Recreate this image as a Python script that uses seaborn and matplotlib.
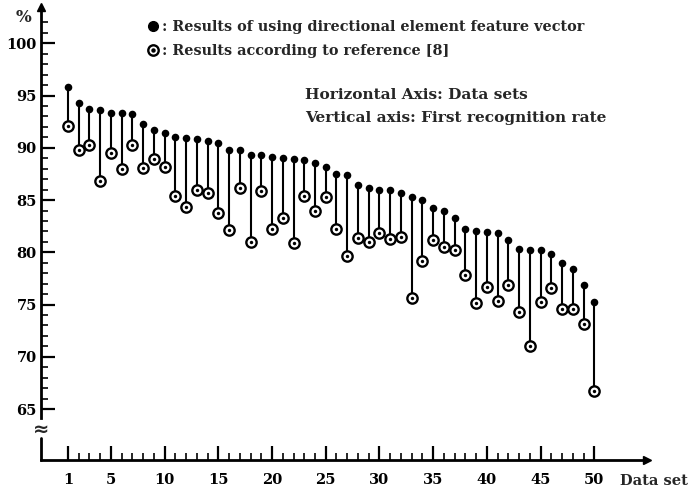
import numpy as np
import pandas as pd
import matplotlib
matplotlib.use("Agg")
import matplotlib.pyplot as plt
from matplotlib.lines import Line2D
from matplotlib.legend_handler import HandlerTuple
import seaborn as sns

# ---- data ----
data_sets = list(range(1, 51))
directional = [95.85, 94.32, 93.68, 93.59, 93.36, 93.30, 93.23, 92.25, 91.70, 91.42,
               91.07, 90.90, 90.81, 90.65, 90.43, 89.79, 89.76, 89.34, 89.28, 89.09,
               89.02, 88.90, 88.83, 88.57, 88.19, 87.50, 87.37, 86.47, 86.15, 86.00,
               85.95, 85.70, 85.32, 85.00, 84.28, 83.98, 83.28, 82.26, 82.07, 81.97,
               81.82, 81.18, 80.29, 80.22, 80.22, 79.84, 78.95, 78.43, 76.90, 75.28]
reference8 = [92.08, 89.79, 90.27, 86.82, 89.53, 87.97, 90.24, 88.10, 88.96, 88.13,
              85.39, 84.30, 85.96, 85.70, 83.79, 82.13, 86.17, 81.02, 85.90, 82.20,
              83.25, 80.86, 85.35, 83.98, 85.29, 82.20, 79.68, 81.40, 80.96, 81.82,
              81.30, 81.46, 75.60, 79.17, 81.15, 80.54, 80.22, 77.86, 75.18, 76.71,
              75.37, 76.84, 74.32, 71.05, 75.28, 76.58, 74.54, 74.54, 73.14, 66.70]
y_ticks = [65, 70, 75, 80, 85, 90, 95, 100]
x_ticks = [1, 5, 10, 15, 20, 25, 30, 35, 40, 45, 50]
label_dir = ": Results of using directional element feature vector"
label_ref = ": Results according to reference [8]"

df = pd.DataFrame({"set": data_sets, "dir": directional, "ref": reference8})

sns.set_style("white")
plt.rcParams["font.family"] = ["DejaVu Serif", "DejaVu Sans"]
plt.rcParams["font.weight"] = "bold"

W, H = 694, 490
fig = plt.figure(figsize=(W / 100, H / 100), dpi=100)
x0px, x1px, y0px, y1px = 41, 647, 460, 7
ax = fig.add_axes([x0px / W, 1 - y0px / H, (x1px - x0px) / W, (y0px - y1px) / H])
xlim = (-1.51, 54.91)
ylim = (60.13, 103.47)
ax.set_xlim(*xlim)
ax.set_ylim(*ylim)

# stems
ax.vlines(df["set"], df["ref"], df["dir"], color="black", lw=1.5, zorder=2)
# filled dots
sns.scatterplot(data=df, x="set", y="dir", ax=ax, color="black", s=30,
                edgecolor="black", linewidth=0, zorder=4, legend=False)
# open circles with centre dot
sns.scatterplot(data=df, x="set", y="ref", ax=ax, color="white", s=55,
                edgecolor="black", linewidth=1.7, zorder=4, legend=False)
sns.scatterplot(data=df, x="set", y="ref", ax=ax, color="black", s=6,
                linewidth=0, zorder=5, legend=False)

# spines
for s in ["top", "right"]:
    ax.spines[s].set_visible(False)
for s in ["left", "bottom"]:
    ax.spines[s].set_linewidth(2.0)
    ax.spines[s].set_color("black")
ax.spines["left"].set_bounds(64.16, ylim[1])
ax.axvline(xlim[0], ymin=0, ymax=(62.23 - ylim[0]) / (ylim[1] - ylim[0]),
           color="black", lw=2.0, clip_on=False)
ax.text(xlim[0], 63.1, "≈", ha="center", va="center", fontsize=14,
        fontweight="bold", family="DejaVu Sans")
# arrows
ax.plot([0], [1], marker="^", color="black", ms=6, transform=ax.transAxes, clip_on=False)
ax.plot([1], [0], marker=">", color="black", ms=6, transform=ax.transAxes, clip_on=False)

# ticks
ax.set_yticks(y_ticks)
ax.set_yticks(np.arange(65, 103), minor=True)
ax.set_xticks(x_ticks)
ax.set_xticks(data_sets, minor=True)
ax.tick_params(axis="both", which="major", direction="in", length=10, width=1.6,
               labelsize=10.5, colors="black")
ax.tick_params(axis="both", which="minor", direction="in", length=5, width=1.4)
ax.tick_params(axis="y", which="major", pad=3)
ax.tick_params(axis="x", which="major", pad=9)
ax.tick_params(axis="y", which="both", left=True)
ax.tick_params(axis="x", which="both", bottom=True)
for lab in ax.get_xticklabels() + ax.get_yticklabels():
    lab.set_fontweight("bold")
ax.set_xlabel("")
ax.set_ylabel("")

# texts
fig.text(23 / W, 1 - 18 / H, "%", ha="center", va="center", fontsize=12, fontweight="bold")
fig.text(620 / W, 1 - 481 / H, "Data set", ha="left", va="center", fontsize=10.5, fontweight="bold")
fig.text(305 / W, 1 - 95 / H, "Horizontal Axis: Data sets", ha="left", va="center",
         fontsize=11.1, fontweight="bold")
fig.text(305 / W, 1 - 118 / H, "Vertical axis: First recognition rate", ha="left",
         va="center", fontsize=11.1, fontweight="bold")

# legend
h_dir = Line2D([], [], marker="o", color="black", ls="", ms=7)
h_ref_o = Line2D([], [], marker="o", color="black", mfc="white", ls="", ms=7.5, mew=1.7)
h_ref_i = Line2D([], [], marker="o", color="black", ls="", ms=2.2)
leg = fig.legend([h_dir, (h_ref_o, h_ref_i)], [label_dir, label_ref],
                 handler_map={tuple: HandlerTuple(ndivide=1)},
                 loc="upper left", bbox_to_anchor=(146 / W, 1 - 20 / H),
                 frameon=False, handlelength=1.0, handletextpad=0.1,
                 borderpad=0, borderaxespad=0, labelspacing=0.7,
                 prop={"size": 10.4, "weight": "bold"})

fig.savefig("out.png", dpi=100)
